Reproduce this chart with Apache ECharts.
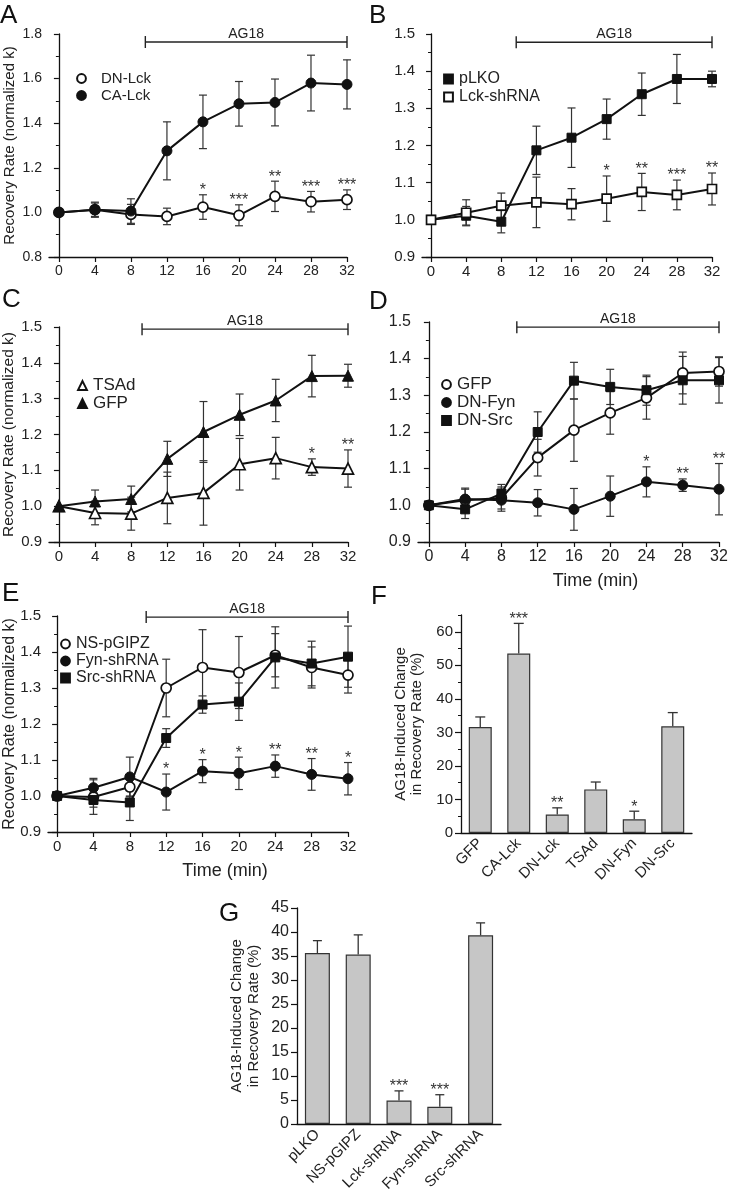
<!DOCTYPE html>
<html><head><meta charset="utf-8">
<script src="https://cdn.jsdelivr.net/npm/echarts@6/dist/echarts.min.js"></script>
<style>html,body{margin:0;padding:0;background:#fff}#c{width:730px;height:1199px}</style>
</head><body><div id="c"></div>
<script>
// ---------- DATA ----------
const times = [0, 4, 8, 12, 16, 20, 24, 28, 32];
const timeTicks = [0, 4, 8, 12, 16, 20, 24, 28, 32];

// Panel A
const aDNLck = [1.0, 1.012, 0.991, 0.982, 1.024, 0.987, 1.072, 1.048, 1.057];
const aDNLckErr = [0, 0.03, 0.045, 0.037, 0.055, 0.047, 0.068, 0.046, 0.044];
const aCALck = [1.0, 1.012, 1.006, 1.276, 1.406, 1.487, 1.493, 1.580, 1.574];
const aCALckErr = [0, 0.034, 0.055, 0.13, 0.12, 0.10, 0.105, 0.125, 0.11];
const aStars = ['', '', '', '', '*', '***', '**', '***', '***'];

// Panel B
const bPLKO = [1.0, 1.011, 0.995, 1.187, 1.221, 1.271, 1.338, 1.379, 1.379];
const bPLKOErr = [0, 0.025, 0.03, 0.065, 0.08, 0.054, 0.057, 0.066, 0.021];
const bLck = [1.0, 1.019, 1.038, 1.047, 1.042, 1.057, 1.075, 1.067, 1.083];
const bLckErr = [0, 0.035, 0.034, 0.068, 0.042, 0.061, 0.05, 0.04, 0.043];
const bStars = ['', '', '', '', '', '*', '**', '***', '**'];

// Panel C
const cTSAd = [1.0, 0.981, 0.979, 1.023, 1.037, 1.117, 1.134, 1.109, 1.105];
const cTSAdErr = [0, 0.033, 0.046, 0.072, 0.09, 0.072, 0.058, 0.023, 0.052];
const cGFP = [1.0, 1.013, 1.020, 1.132, 1.207, 1.255, 1.295, 1.363, 1.364];
const cGFPErr = [0, 0.032, 0.036, 0.049, 0.085, 0.058, 0.059, 0.058, 0.032];
const cStars = ['', '', '', '', '', '', '', '*', '**'];

// Panel D
const dGFP = [1.0, 1.014, 1.02, 1.13, 1.205, 1.252, 1.293, 1.361, 1.365];
const dGFPErr = [0, 0.03, 0.03, 0.05, 0.085, 0.058, 0.058, 0.057, 0.04];
const dDNFyn = [1.0, 1.017, 1.014, 1.007, 0.989, 1.025, 1.064, 1.055, 1.044];
const dDNFynErr = [0, 0.03, 0.03, 0.036, 0.057, 0.055, 0.041, 0.017, 0.07];
const dDNSrc = [1.0, 0.989, 1.032, 1.2, 1.34, 1.323, 1.314, 1.341, 1.341];
const dDNSrcErr = [0, 0.025, 0.025, 0.055, 0.05, 0.048, 0.041, 0.065, 0.062];
const dStars = ['', '', '', '', '', '', '*', '**', '**'];

// Panel E
const eNS = [1.0, 0.997, 1.025, 1.30, 1.357, 1.343, 1.391, 1.357, 1.336];
const eNSErr = [0, 0.048, 0.025, 0.08, 0.105, 0.1, 0.06, 0.057, 0.05];
const eFyn = [1.0, 1.023, 1.053, 1.011, 1.069, 1.063, 1.083, 1.06, 1.048];
const eFynErr = [0, 0.026, 0.055, 0.05, 0.032, 0.045, 0.031, 0.044, 0.045];
const eSrc = [1.0, 0.989, 0.982, 1.161, 1.254, 1.262, 1.385, 1.368, 1.387];
const eSrcErr = [0, 0.02, 0.05, 0.026, 0.024, 0.052, 0.085, 0.062, 0.085];
const eStars = ['', '', '', '*', '*', '*', '**', '**', '*'];

// AG18 treatment span per panel (start, end in min; level in y units)
const agStart = [9.6, 9.7, 9.2, 9.7, 9.8];
const agEnd = [32, 32, 32, 32, 32];
const agLevel = [1.764, 1.478, 1.494, 1.486, 1.497];

// Panel F
const fCats = ['GFP', 'CA-Lck', 'DN-Lck', 'TSAd', 'DN-Fyn', 'DN-Src'];
const fVals = [31.6, 53.5, 5.5, 13.0, 4.1, 31.8];
const fErr = [3.0, 9.0, 2.0, 2.2, 2.4, 4.1];
const fStars = ['', '***', '**', '', '*', ''];
const fTicks = [0, 10, 20, 30, 40, 50, 60];
const fMinorTicks = [5, 15, 25, 35, 45, 55, 65];

// Panel G
const gCats = ['pLKO', 'NS-pGIPZ', 'Lck-shRNA', 'Fyn-shRNA', 'Src-shRNA'];
const gVals = [35.6, 35.3, 4.9, 3.6, 39.3];
const gErr = [2.6, 4.1, 2.0, 2.5, 2.6];
const gStars = ['', '', '***', '***', ''];

// ---------- BUILD ----------
const FF = '"Liberation Sans", Arial, Helvetica, sans-serif';
const INK = '#111';
const chart = echarts.init(document.getElementById('c'), null, {renderer: 'canvas'});

const grids = [
  {left: 49, top: 34, width: 298, height: 223},
  {left: 422, top: 34, width: 290, height: 223},
  {left: 49, top: 327, width: 299, height: 215},
  {left: 418, top: 322, width: 301, height: 220},
  {left: 48, top: 616, width: 300, height: 216},
  {left: 461, top: 615, width: 231, height: 218},
  {left: 297, top: 908, width: 204, height: 216}
].map(g => Object.assign({containLabel: false, outerBoundsMode: 'none'}, g));

const lineCfg = [
  {xmin: -1.1, ymin: 0.8, ymax: 1.8, yint: 0.2, tick: 14, title: 'Recovery Rate (normalized k)', tfs: 15, ngap: 32},
  {xmin: -1.03, ymin: 0.9, ymax: 1.5, yint: 0.1, tick: 15},
  {xmin: -1.1, ymin: 0.9, ymax: 1.5, yint: 0.1, tick: 15, title: 'Recovery Rate (normalized k)', tfs: 15.5, ngap: 32},
  {xmin: -1.2, ymin: 0.9, ymax: 1.5, yint: 0.1, tick: 16, xname: 'Time (min)'},
  {xmin: -1.0, ymin: 0.9, ymax: 1.5, yint: 0.1, tick: 15, title: 'Recovery Rate (normalized k)', tfs: 16, ngap: 30, xname: 'Time (min)'}
];

const xAxes = [], yAxes = [];
lineCfg.forEach((c, i) => {
  xAxes.push({
    type: 'value', gridIndex: i, min: c.xmin, max: 32,
    axisLine: {show: true, onZero: false, lineStyle: {color: INK, width: 1.3}},
    axisTick: {show: true, customValues: timeTicks, length: 5, lineStyle: {color: INK, width: 1.2}},
    axisLabel: {customValues: timeTicks, fontSize: c.tick, color: '#222', fontFamily: FF, margin: 7},
    splitLine: {show: false},
    name: c.xname || '', nameLocation: 'middle', nameGap: 30,
    nameTextStyle: {fontSize: 18, color: '#222', fontFamily: FF, padding: [0, 0, 0, 54]}
  });
  yAxes.push({
    type: 'value', gridIndex: i, min: c.ymin, max: c.ymax, interval: c.yint,
    axisLine: {show: true, lineStyle: {color: INK, width: 1.3}},
    axisTick: {show: true, length: 5, lineStyle: {color: INK, width: 1.2}},
    minorTick: {show: true, splitNumber: 2, length: 3, lineStyle: {color: INK, width: 1}},
    axisLabel: {fontSize: c.tick, color: '#222', fontFamily: FF, margin: 7, formatter: v => v.toFixed(1)},
    splitLine: {show: false}, minorSplitLine: {show: false},
    name: c.title || '', nameLocation: 'middle', nameGap: c.ngap || 30, nameMoveOverlap: false,
    nameTextStyle: {fontSize: c.tfs || 15, color: '#222', fontFamily: FF}
  });
});
// F
xAxes.push({
  type: 'category', gridIndex: 5, data: fCats,
  axisLine: {lineStyle: {color: INK, width: 1.3}}, axisTick: {show: false},
  axisLabel: {rotate: 45, interval: 0, fontSize: 15, color: '#222', fontFamily: FF, margin: 8}
});
yAxes.push({
  type: 'value', gridIndex: 5, min: 0, max: 65,
  axisLine: {show: true, lineStyle: {color: INK, width: 1.3}},
  axisTick: {show: true, customValues: fTicks, length: 6, lineStyle: {color: INK, width: 1.2}},
  axisLabel: {customValues: fTicks, fontSize: 15, color: '#222', fontFamily: FF, margin: 8},
  splitLine: {show: false},
  name: 'AG18-Induced Change\nin Recovery Rate (%)', nameLocation: 'middle', nameGap: 36, nameMoveOverlap: false,
  nameTextStyle: {fontSize: 15, lineHeight: 16, color: '#222', fontFamily: FF}
});
// F minor tick overlay axis (index 6 in yAxes)
yAxes.push({
  type: 'value', gridIndex: 5, min: 0, max: 65, position: 'left',
  axisLine: {show: false},
  axisTick: {show: true, customValues: fMinorTicks, length: 3, lineStyle: {color: INK, width: 1}},
  axisLabel: {show: false}, splitLine: {show: false}
});
// G
xAxes.push({
  type: 'category', gridIndex: 6, data: gCats,
  axisLine: {lineStyle: {color: INK, width: 1.3}}, axisTick: {show: false},
  axisLabel: {rotate: 45, interval: 0, fontSize: 15, color: '#222', fontFamily: FF, margin: 8}
});
yAxes.push({
  type: 'value', gridIndex: 6, min: 0, max: 45, interval: 5,
  axisLine: {show: true, lineStyle: {color: INK, width: 1.3}},
  axisTick: {show: true, length: 6, lineStyle: {color: INK, width: 1.2}},
  axisLabel: {fontSize: 16, color: '#222', fontFamily: FF, margin: 8},
  splitLine: {show: false},
  name: 'AG18-Induced Change\nin Recovery Rate (%)', nameLocation: 'middle', nameGap: 35, nameMoveOverlap: false,
  nameTextStyle: {fontSize: 15, lineHeight: 17, color: '#222', fontFamily: FF}
});

const series = [];
function lineS(name, gi, vals, symbol, filled, size) {
  series.push({
    type: 'line', name: name, xAxisIndex: gi, yAxisIndex: gi,
    data: times.map((t, i) => [t, vals[i]]),
    symbol: symbol, symbolSize: size, showSymbol: true, animation: false, z: 4,
    lineStyle: {color: INK, width: 2},
    itemStyle: filled ? {color: INK, borderColor: INK, borderWidth: 1} : {color: '#fff', borderColor: INK, borderWidth: 1.7},
    emphasis: {disabled: true}
  });
}
function errS(gi, vals, errs, stars, cap) {
  series.push({
    type: 'custom', xAxisIndex: gi, yAxisIndex: gi, z: 2, clip: false, animation: false, silent: true,
    data: times.map((t, i) => [t, vals[i], errs[i]]),
    renderItem: function (params, api) {
      const x = api.value(0), y = api.value(1), e = api.value(2);
      const top = api.coord([x, y + e]), bot = api.coord([x, y - e]);
      const st = {stroke: '#333', lineWidth: 1.2};
      const ch = [];
      if (e > 0) {
        ch.push({type: 'line', shape: {x1: top[0], y1: top[1], x2: bot[0], y2: bot[1]}, style: st});
        ch.push({type: 'line', shape: {x1: top[0] - cap, y1: top[1], x2: top[0] + cap, y2: top[1]}, style: st});
        ch.push({type: 'line', shape: {x1: bot[0] - cap, y1: bot[1], x2: bot[0] + cap, y2: bot[1]}, style: st});
      }
      const s = stars ? stars[params.dataIndex] : '';
      if (s) ch.push({type: 'text', x: top[0], y: top[1] + 4, style: {text: s, fill: '#333', font: '16px ' + FF, textAlign: 'center', textVerticalAlign: 'bottom'}});
      return {type: 'group', children: ch};
    }
  });
}
function agS(gi) {
  series.push({
    type: 'custom', xAxisIndex: gi, yAxisIndex: gi, z: 2, clip: false, animation: false, silent: true,
    data: [[agStart[gi], agEnd[gi], agLevel[gi]]],
    renderItem: function (params, api) {
      const p1 = api.coord([api.value(0), api.value(2)]), p2 = api.coord([api.value(1), api.value(2)]);
      const st = {stroke: '#222', lineWidth: 1.4};
      return {type: 'group', children: [
        {type: 'line', shape: {x1: p1[0], y1: p1[1], x2: p2[0], y2: p2[1]}, style: st},
        {type: 'line', shape: {x1: p1[0], y1: p1[1] - 6, x2: p1[0], y2: p1[1] + 6}, style: st},
        {type: 'line', shape: {x1: p2[0], y1: p2[1] - 6, x2: p2[0], y2: p2[1] + 6}, style: st},
        {type: 'text', x: (p1[0] + p2[0]) / 2, y: p1[1] - 1, style: {text: 'AG18', fill: '#222', font: '14px ' + FF, textAlign: 'center', textVerticalAlign: 'bottom'}}
      ]};
    }
  });
}

// A
errS(0, aCALck, aCALckErr, null, 4);
errS(0, aDNLck, aDNLckErr, aStars, 4);
lineS('DN-Lck|A', 0, aDNLck, 'circle', false, 10);
lineS('CA-Lck|A', 0, aCALck, 'circle', true, 10);
agS(0);
// B
errS(1, bPLKO, bPLKOErr, null, 4);
errS(1, bLck, bLckErr, bStars, 4);
lineS('pLKO|B', 1, bPLKO, 'rect', true, 9);
lineS('Lck-shRNA|B', 1, bLck, 'rect', false, 9);
agS(1);
// C
errS(2, cGFP, cGFPErr, null, 4);
errS(2, cTSAd, cTSAdErr, cStars, 4);
lineS('TSAd|C', 2, cTSAd, 'triangle', false, 11);
lineS('GFP|C', 2, cGFP, 'triangle', true, 11);
agS(2);
// D
errS(3, dGFP, dGFPErr, null, 4);
errS(3, dDNSrc, dDNSrcErr, null, 4);
errS(3, dDNFyn, dDNFynErr, dStars, 4);
lineS('GFP|D', 3, dGFP, 'circle', false, 10);
lineS('DN-Fyn|D', 3, dDNFyn, 'circle', true, 10);
lineS('DN-Src|D', 3, dDNSrc, 'rect', true, 9);
agS(3);
// E
errS(4, eNS, eNSErr, null, 4);
errS(4, eSrc, eSrcErr, null, 4);
errS(4, eFyn, eFynErr, eStars, 4);
lineS('NS-pGIPZ|E', 4, eNS, 'circle', false, 10);
lineS('Fyn-shRNA|E', 4, eFyn, 'circle', true, 10);
lineS('Src-shRNA|E', 4, eSrc, 'rect', true, 9);
agS(4);

function barS(xi, yi, cats, vals, errs, stars, bw, cap) {
  series.push({
    type: 'bar', xAxisIndex: xi, yAxisIndex: yi, data: vals, barWidth: bw, animation: false,
    itemStyle: {color: '#c6c6c6', borderColor: '#333', borderWidth: 1.2}, z: 2, emphasis: {disabled: true}
  });
  series.push({
    type: 'custom', xAxisIndex: xi, yAxisIndex: yi, z: 1, clip: false, animation: false, silent: true,
    data: cats.map((c, i) => [i, vals[i], errs[i]]),
    renderItem: function (params, api) {
      const x = api.value(0), y = api.value(1), e = api.value(2);
      const b = api.coord([x, y]), t = api.coord([x, y + e]);
      const st = {stroke: '#333', lineWidth: 1.3};
      const ch = [
        {type: 'line', shape: {x1: b[0], y1: b[1], x2: t[0], y2: t[1]}, style: st},
        {type: 'line', shape: {x1: t[0] - cap, y1: t[1], x2: t[0] + cap, y2: t[1]}, style: st}
      ];
      const s = stars[params.dataIndex];
      if (s) ch.push({type: 'text', x: t[0], y: t[1] + 4, style: {text: s, fill: '#333', font: '16px ' + FF, textAlign: 'center', textVerticalAlign: 'bottom'}});
      return {type: 'group', children: ch};
    }
  });
}
barS(5, 5, fCats, fVals, fErr, fStars, 23, 5);
barS(6, 7, gCats, gVals, gErr, gStars, 25, 4.5);

function legendCfg(names, left, top, fs, gap, padLeft) {
  return {
    data: names, orient: 'vertical', left: left, top: top, itemWidth: 11, itemHeight: 11, itemGap: gap,
    selectedMode: false, padding: 0,
    formatter: n => n.split('|')[0],
    lineStyle: {opacity: 0},
    textStyle: {fontSize: fs, lineHeight: 14, color: '#222', fontFamily: FF, padding: [0, 0, 0, padLeft || 0]}
  };
}
const legends = [
  legendCfg(['DN-Lck|A', 'CA-Lck|A'], 75, 71, 15, 2, 9),
  legendCfg(['pLKO|B', 'Lck-shRNA|B'], 442, 71, 16, 2, 0),
  legendCfg(['TSAd|C', 'GFP|C'], 76, 377, 17, 1, 0),
  legendCfg(['GFP|D', 'DN-Fyn|D', 'DN-Src|D'], 440, 376, 17, 1, 0),
  legendCfg(['NS-pGIPZ|E', 'Fyn-shRNA|E', 'Src-shRNA|E'], 59, 636, 16, 1, 0)
];

const letters = [['A', 0, 3], ['B', 369, 3], ['C', 2, 287], ['D', 369, 289], ['E', 2, 581], ['F', 371, 584], ['G', 219, 901]];
const graphic = letters.map(l => ({
  type: 'text', left: l[1], top: l[2], silent: true,
  style: {text: l[0], font: '26px ' + FF, fill: '#111'}
}));

chart.setOption({
  animation: false,
  backgroundColor: '#fff',
  grid: grids,
  xAxis: xAxes,
  yAxis: yAxes,
  legend: legends,
  graphic: graphic,
  series: series
});
</script>
</body></html>
